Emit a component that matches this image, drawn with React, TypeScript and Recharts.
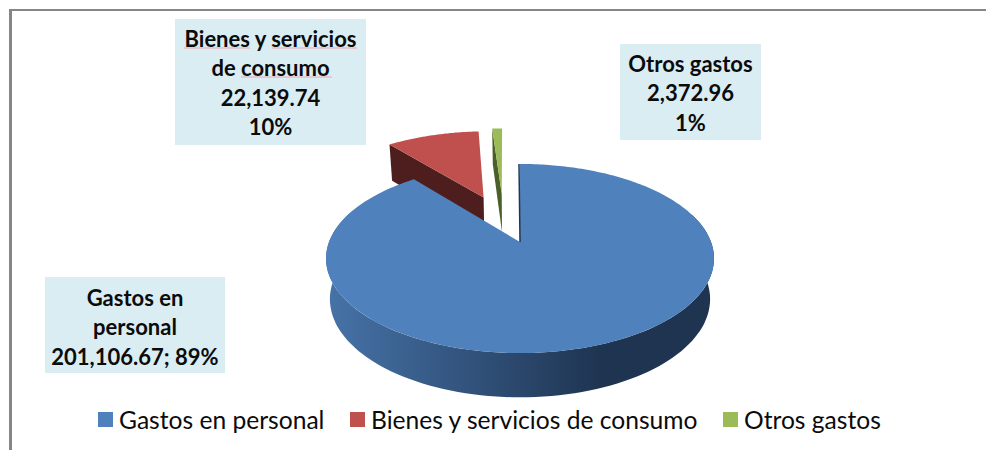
// App.tsx
import { PieChart, Pie, Legend } from "recharts";

const categories = ["Gastos en personal", "Bienes y servicios de consumo", "Otros gastos"];
const amounts = [201106.67, 22139.74, 2372.96];
const labelLines = [
  ["Gastos en", "personal", "201,106.67; 89%"],
  ["Bienes y servicios", "de consumo", "22,139.74", "10%"],
  ["Otros gastos", "2,372.96", "1%"],
];

const COLORS = ["#4f81bd", "#c0504d", "#9bbb59"];
const CUT_COLORS = ["#1f3552", "#4e1e1e", "#4b5f29"];

// pulled-out slices, in disc radii, plus a small screen nudge for the thin one
const EXPLODE = [0, 0.57, 0.58];
const NUDGE_X = [0, 0, -15];

// fake 3D: perspective distance (in radii) and tilt of the disc
const PERSPECTIVE = 5.73;
const TILT = 0.48;

const LABEL_BOXES = [
  { x: 45, y: 277, w: 180, h: 96, first: 297, step: 29.5 },
  { x: 175, y: 19, w: 191, h: 126, first: 38, step: 29.5 },
  { x: 620, y: 44, w: 141, h: 96, first: 63, step: 29.5 },
];
const LEGEND_X = [98, 350, 723];
const SPELL_MARKS = [
  [184, 250, 48],
  [272, 357, 48],
  [241, 332, 77],
];

const FONT = "Lato, Carlito, Calibri, sans-serif";
const rad = (d: number) => (d * Math.PI) / 180;

const pieData = categories.map((name, i) => ({ name, value: amounts[i], fill: COLORS[i] })).reverse();

function Slice3D(props: any) {
  const { cx, cy, outerRadius: R, startAngle, endAngle, name, fill } = props;
  const idx = categories.indexOf(name);
  // recharts angles → clockwise from 12 o'clock
  const t0 = 90 - startAngle;
  const t1 = 90 - endAngle;
  const mid = (t0 + t1) / 2;
  const ex = EXPLODE[idx] * Math.sin(rad(mid));
  const ez = EXPLODE[idx] * Math.cos(rad(mid));

  const top = (theta: number, r: number) => {
    const X = ex + r * Math.sin(rad(theta));
    const Z = ez + r * Math.cos(rad(theta));
    const s = PERSPECTIVE / (PERSPECTIVE + Z);
    return { x: cx + NUDGE_X[idx] + X * s * R, y: cy - Z * s * R * TILT, s };
  };
  const bottom = (theta: number, r: number) => {
    const p = top(theta, r);
    return { x: cx + (p.x - cx) * 0.98, y: p.y + 20 + 20 * p.s };
  };
  const toPath = (pts: { x: number; y: number }[]) =>
    "M" + pts.map((p) => `${p.x.toFixed(1)},${p.y.toFixed(1)}`).join("L") + "Z";

  const arc: { x: number; y: number }[] = [];
  const steps = Math.max(4, Math.ceil(Math.abs(t1 - t0)));
  for (let i = 0; i <= steps; i++) arc.push(top(t0 + ((t1 - t0) * i) / steps, 1));
  const facePath = toPath([top(0, 0), ...arc]);

  if (idx === 0) {
    const front: { x: number; y: number }[] = [];
    const back: { x: number; y: number }[] = [];
    for (let th = 72; th <= 292; th += 2) {
      front.push(top(th, 1));
      back.unshift(bottom(th, 1));
    }
    return (
      <g>
        <defs>
          <linearGradient id="wall" gradientUnits="userSpaceOnUse" x1={327} y1={0} x2={603} y2={0}>
            <stop offset="0" stopColor="#4673a8" />
            <stop offset="1" stopColor="#1e3451" />
          </linearGradient>
        </defs>
        <path d={toPath([...front, ...back])} fill="url(#wall)" />
        <path d={facePath} fill={fill} />
        <line x1={cx - 1} y1={cy - 78} x2={cx} y2={cy} stroke={CUT_COLORS[0]} strokeWidth={1.5} />
      </g>
    );
  }

  const cut = toPath([top(t1, 1), top(0, 0), bottom(0, 0), bottom(t1, 1)]);
  return (
    <g>
      <path d={cut} fill={CUT_COLORS[idx]} />
      <path d={facePath} fill={fill} />
    </g>
  );
}

function BoxLabel(props: any) {
  const idx = categories.indexOf(props.name);
  const box = LABEL_BOXES[idx];
  return (
    <g>
      <rect x={box.x} y={box.y} width={box.w} height={box.h} fill="#daedf3" />
      {labelLines[idx].map((line, i) => (
        <text
          key={line}
          x={box.x + box.w / 2}
          y={box.first + i * box.step}
          textAnchor="middle"
          dominantBaseline="central"
          fontFamily={FONT}
          fontWeight={700}
          fontSize={22}
          fill="#0b0b0b"
        >
          {line}
        </text>
      ))}
      {idx === 1 &&
        SPELL_MARKS.map(([a, b, y]) => (
          <line key={a} x1={a} x2={b} y1={y} y2={y} stroke="#e9a6ae" strokeWidth={1} />
        ))}
    </g>
  );
}

function LegendRow({ payload }: any) {
  const items = [...(payload ?? [])].sort(
    (a: any, b: any) => categories.indexOf(a.value) - categories.indexOf(b.value),
  );
  return (
    <div style={{ position: "relative", width: 986, height: 30 }}>
      {items.map((item: any, i: number) => (
        <div
          key={item.value}
          style={{
            position: "absolute",
            left: LEGEND_X[i],
            top: 0,
            height: 30,
            display: "flex",
            alignItems: "center",
            fontFamily: FONT,
            fontSize: 24.6,
            color: "#0b0b0b",
            whiteSpace: "nowrap",
          }}
        >
          <span style={{ width: 15, height: 15, background: COLORS[i], marginRight: 6 }} />
          {item.value}
        </div>
      ))}
    </div>
  );
}

export default function App() {
  return (
    <div style={{ position: "absolute", left: 0, top: 0, width: 986, height: 450, background: "#fff" }}>
      <div style={{ position: "absolute", left: 9, top: 9, width: 977, height: 2, background: "#868686" }} />
      <div style={{ position: "absolute", left: 9, top: 9, width: 2.5, height: 441, background: "#868686" }} />
      <PieChart width={986} height={450} margin={{ top: 0, right: 0, bottom: 0, left: 0 }}>
        <Pie
          data={pieData}
          dataKey="value"
          nameKey="name"
          cx={520}
          cy={242}
          innerRadius={0}
          outerRadius={191}
          startAngle={90}
          endAngle={450}
          stroke="none"
          shape={Slice3D}
          label={BoxLabel}
          labelLine={false}
          isAnimationActive={false}
        />
        <Legend
          content={LegendRow}
          wrapperStyle={{ left: 0, top: 404, bottom: "auto", width: 986, height: 30 }}
        />
      </PieChart>
    </div>
  );
}
